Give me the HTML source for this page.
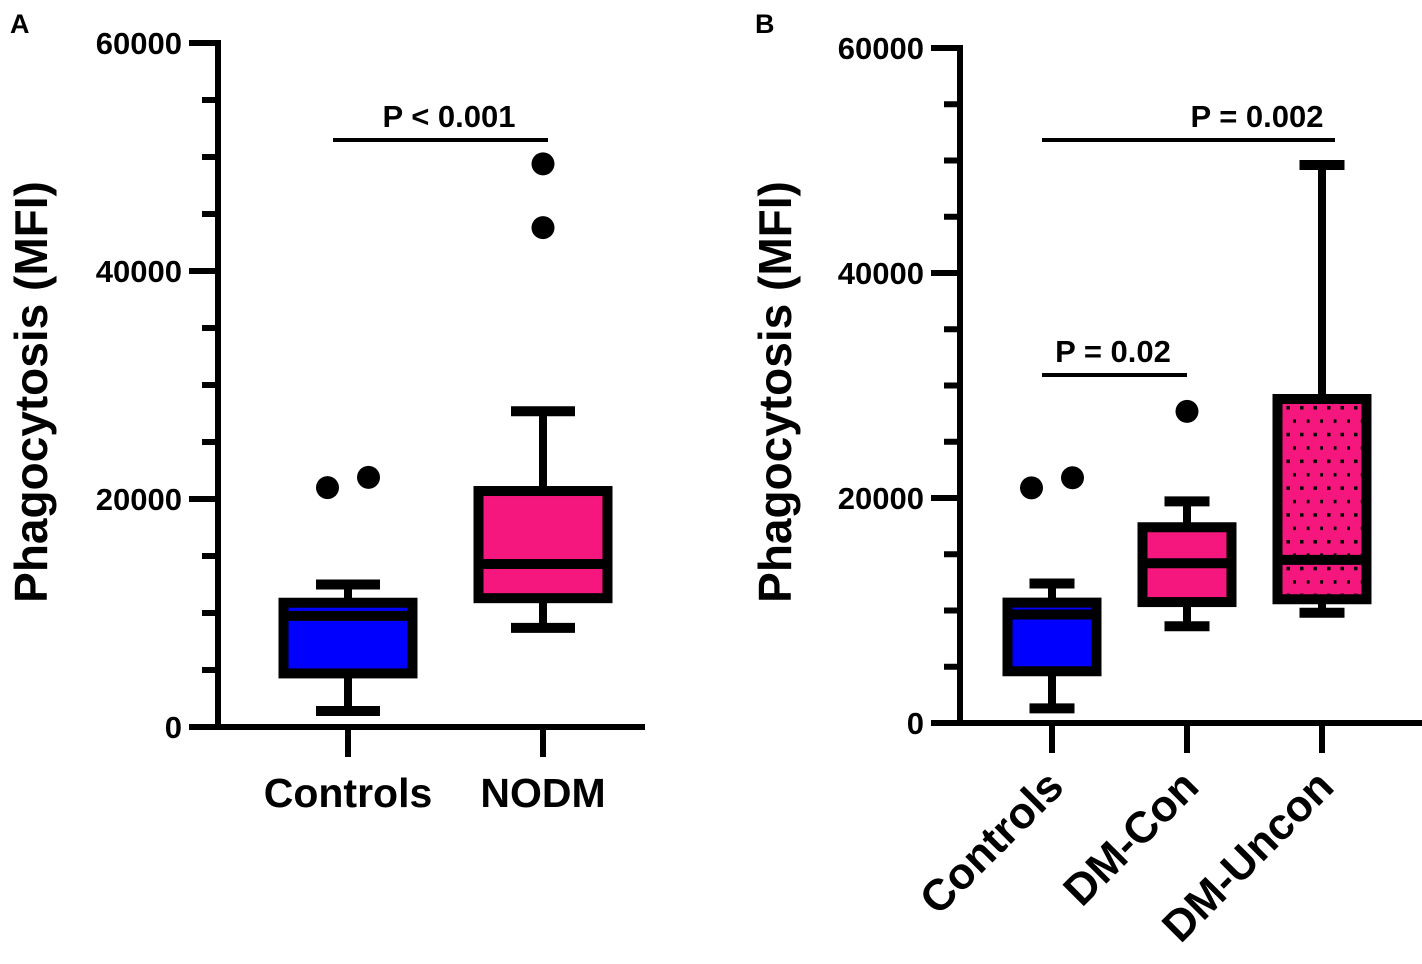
<!DOCTYPE html>
<html><head><meta charset="utf-8"><style>
html,body{margin:0;padding:0;background:#fff;}
svg{display:block;font-family:"Liberation Sans",Arial,sans-serif;font-weight:bold;}
</style></head><body>
<svg id="chart" width="1422" height="964" viewBox="0 0 1422 964">
<defs>
<pattern id="dots" width="13.5" height="26.8" patternUnits="userSpaceOnUse" x="0" y="0">
<rect x="4" y="4" width="3.5" height="3.5" fill="#000"/>
<rect x="10.75" y="17.4" width="3.5" height="3.5" fill="#000"/>
</pattern>
</defs>
<text x="10" y="33" font-size="27">A</text>
<text x="755" y="33" font-size="27">B</text>
</svg>
<script>
const ticksMajor=[0,20000,40000,60000];
const ticksMinor=[5000,10000,15000,25000,30000,35000,45000,50000,55000];
// Panel A
const catsA=["Controls","NODM"];
const q1A=[4700,11300], medA=[9750,14300], q3A=[10900,20700], loA=[1400,8700], hiA=[12500,27700];
const outA=[[21000,21900],[43800,49400]];
const spreadA=[true,false];
const fillsA=["#0000ff","#f5177e"];
// Panel B
const catsB=["Controls","DM-Con","DM-Uncon"];
const q1B=[4600,10750,11000], medB=[9650,14200,14500], q3B=[10700,17400,28800], loB=[1300,8600,9800], hiB=[12400,19700,49600];
const outB=[[20900,21800],[27700],[]];
const spreadB=[true,false,false];
const fillsB=["#0000ff","#f5177e","dots"];

const svg=document.getElementById('chart');
const NS="http://www.w3.org/2000/svg";
function mk(tag,attrs,parent){const e=document.createElementNS(NS,tag);for(const k in attrs)e.setAttribute(k,attrs[k]);(parent||svg).appendChild(e);return e;}

function panel(cfg){
  const g=mk('g',{});
  
  
  const y=v=>cfg.y0-(v/60000)*(cfg.y0-cfg.y60);
  const ya=mk('line',{x1:cfg.ax,y1:cfg.y60-3,x2:cfg.ax,y2:cfg.y0+3,stroke:'#000','stroke-width':6},g);
  
  
  const xa=mk('line',{x1:cfg.ax-29,y1:cfg.y0,x2:cfg.xEnd,y2:cfg.y0,stroke:'#000','stroke-width':6},g);
  
  
  ticksMajor.forEach(t=>{
    if(t>0){const l=mk('line',{x1:cfg.ax-29,y1:y(t),x2:cfg.ax,y2:y(t),stroke:'#000','stroke-width':6},g);
    
    }
    const tx=mk('text',{x:cfg.ax-36,y:y(t)+11,'font-size':31,'text-anchor':'end'},g);
    tx.textContent=t;
    
    
  });
  ticksMinor.forEach(t=>{
    const l=mk('line',{x1:cfg.ax-16,y1:y(t),x2:cfg.ax,y2:y(t),stroke:'#000','stroke-width':6},g);
    
    
  });
  const yt=mk('text',{x:0,y:0,'font-size':46,'text-anchor':'middle',transform:`translate(${cfg.titleX},392) rotate(-90)`},g);
  yt.textContent="Phagocytosis (MFI)";
  
  
  cfg.cats.forEach((c,i)=>{
    const cx=cfg.xs[i], hw=cfg.bw/2, cw=cfg.cw/2;
    const tk=mk('line',{x1:cx,y1:cfg.y0,x2:cx,y2:cfg.y0+30,stroke:'#000','stroke-width':6},g);
    
    
    const w=mk('line',{x1:cx,y1:y(cfg.hi[i]),x2:cx,y2:y(cfg.lo[i]),stroke:'#000','stroke-width':8},g);
    
    
    [cfg.hi[i],cfg.lo[i]].forEach(v=>{
      const cp=mk('line',{x1:cx-cw,y1:y(v),x2:cx+cw,y2:y(v),stroke:'#000','stroke-width':10},g);
      
      
    });
    const f=cfg.fills[i];
    const fillv=f==='dots'?'#f5177e':f;
    const b=mk('rect',{x:cx-hw,y:y(cfg.q3[i]),width:cfg.bw,height:y(cfg.q1[i])-y(cfg.q3[i]),fill:fillv,stroke:'#000','stroke-width':10},g);
    
    
    if(f==='dots'){
      const d=mk('rect',{x:cx-hw+5,y:y(cfg.q3[i])+5,width:cfg.bw-10,height:y(cfg.q1[i])-y(cfg.q3[i])-10,fill:'url(#dots)'},g);
      
      
    }
    const m=mk('line',{x1:cx-hw,y1:y(cfg.med[i]),x2:cx+hw,y2:y(cfg.med[i]),stroke:'#000','stroke-width':10},g);
    
    
    cfg.out[i].forEach((v,j)=>{
      const n=cfg.out[i].length;
      const ox=(cfg.spread[i]&&n>1)?cx+(j-0.5)*41:cx;
      const o=mk('circle',{cx:ox,cy:y(v),r:11.5,fill:'#000'},g);
      
      
    });
    let lab;
    if(cfg.rot){
      lab=mk('text',{x:0,y:0,'font-size':44,'text-anchor':'end',transform:`translate(${cx+14},${cfg.y0+66}) rotate(-45)`},g);
    }else{
      lab=mk('text',{x:cx,y:cfg.y0+80,'font-size':41,'text-anchor':'middle'},g);
    }
    lab.textContent=c;
    
    
  });
  cfg.sig.forEach(s=>{
    const l=mk('line',{x1:s.x1,y1:s.y,x2:s.x2,y2:s.y,stroke:'#000','stroke-width':4},g);
    
    
    const t=mk('text',{x:s.tx,y:s.y-13,'font-size':31,'text-anchor':'middle'},g);
    t.textContent=s.label;
    
    
  });
}
panel({name:'panel-a',ax:218,y0:727,y60:43,xEnd:645,titleX:47,xs:[348,543],bw:129,cw:64,cats:catsA,q1:q1A,med:medA,q3:q3A,lo:loA,hi:hiA,out:outA,spread:spreadA,fills:fillsA,rot:false,
  sig:[{x1:333,x2:548,y:140,tx:449,label:"P < 0.001"}]});
panel({name:'panel-b',ax:960,y0:723,y60:48,xEnd:1422,titleX:791,xs:[1052,1187,1322],bw:89,cw:45,cats:catsB,q1:q1B,med:medB,q3:q3B,lo:loB,hi:hiB,out:outB,spread:spreadB,fills:fillsB,rot:true,
  sig:[{x1:1042,x2:1187,y:375,tx:1113,label:"P = 0.02"},{x1:1042,x2:1335,y:140,tx:1257,label:"P = 0.002"}]});
</script>
</body></html>
